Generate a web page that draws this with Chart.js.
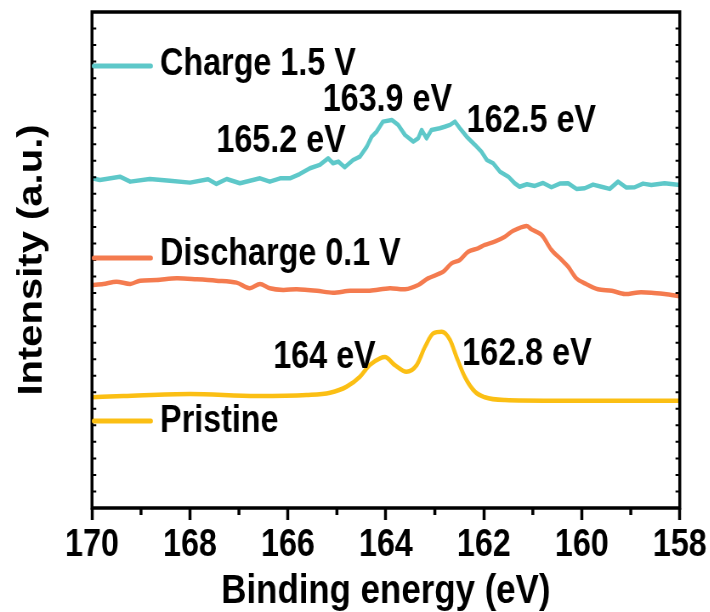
<!DOCTYPE html>
<html>
<head>
<meta charset="utf-8">
<script src="https://cdn.jsdelivr.net/npm/chart.js@4.4.1/dist/chart.umd.min.js"></script>
<style>
    html, body { margin: 0; padding: 0; background: #fff; overflow: hidden; }
    #wrap { width: 710px; height: 612px; overflow: hidden; }
    /* the original figure is squeezed horizontally, so draw wide and squeeze */
    #xps { transform: scaleX(0.85); transform-origin: 0 0; }
</style>
</head>
<body>
<div id="wrap"><canvas id="xps" width="835" height="612"></canvas></div>
<script>
// binding energy (eV) and intensity (a.u., offset stacked)
const chargeE = [170.00, 169.84, 169.43, 169.22, 168.82, 168.41, 168.00, 167.63, 167.46, 167.25, 166.98, 166.57, 166.37, 166.16, 165.96, 165.76, 165.55, 165.35, 165.18, 165.08, 164.97, 164.84, 164.67, 164.53, 164.39, 164.29, 164.19, 164.06, 163.88, 163.75, 163.61, 163.44, 163.34, 163.27, 163.17, 163.07, 162.90, 162.80, 162.69, 162.59, 162.49, 162.35, 162.18, 162.05, 161.94, 161.81, 161.67, 161.50, 161.37, 161.27, 161.12, 160.96, 160.79, 160.62, 160.45, 160.28, 160.11, 159.94, 159.77, 159.60, 159.43, 159.26, 159.09, 158.92, 158.75, 158.58, 158.31, 158.00];
const chargeI = [19.94, 19.84, 20.04, 19.74, 19.90, 19.80, 19.68, 19.88, 19.60, 19.90, 19.64, 19.94, 19.74, 19.94, 19.94, 20.20, 20.55, 20.75, 21.15, 20.85, 20.95, 20.61, 21.05, 21.25, 21.85, 22.46, 22.76, 23.37, 23.47, 23.17, 22.56, 22.16, 22.36, 22.86, 22.36, 22.86, 22.97, 23.06, 23.17, 23.37, 22.97, 22.46, 21.96, 21.55, 21.05, 20.85, 20.34, 20.04, 19.64, 19.43, 19.58, 19.48, 19.66, 19.40, 19.62, 19.64, 19.30, 19.34, 19.56, 19.43, 19.30, 19.74, 19.38, 19.40, 19.62, 19.54, 19.64, 19.54];

const dischargeE = [170.00, 169.77, 169.50, 169.22, 169.02, 168.68, 168.27, 167.86, 167.46, 167.05, 166.78, 166.57, 166.37, 166.10, 165.82, 165.41, 165.08, 164.73, 164.33, 163.92, 163.61, 163.34, 163.14, 162.83, 162.66, 162.49, 162.32, 162.12, 161.98, 161.78, 161.57, 161.40, 161.13, 161.03, 160.82, 160.62, 160.41, 160.28, 160.11, 159.94, 159.67, 159.39, 159.12, 158.85, 158.58, 158.31, 158.00];
const dischargeI = [13.49, 13.55, 13.69, 13.55, 13.75, 13.79, 13.89, 13.83, 13.75, 13.63, 13.29, 13.55, 13.29, 13.19, 13.23, 13.14, 13.02, 13.14, 13.14, 13.29, 13.23, 13.49, 13.89, 14.29, 14.80, 15.00, 15.50, 15.71, 15.91, 16.11, 16.41, 16.77, 17.06, 16.86, 16.51, 15.61, 15.00, 14.60, 13.89, 13.59, 13.23, 13.14, 12.94, 13.04, 13.02, 12.94, 12.82];

const pristineE = [170.00, 169.36, 168.00, 166.64, 165.62, 165.14, 164.80, 164.53, 164.33, 164.12, 164.02, 163.82, 163.58, 163.37, 163.20, 163.03, 162.86, 162.69, 162.56, 162.39, 162.18, 161.98, 161.57, 160.62, 159.26, 158.00];
const pristineI = [6.70, 6.77, 6.90, 6.77, 6.83, 6.97, 7.34, 7.94, 8.65, 9.05, 9.13, 8.65, 8.24, 8.65, 9.76, 10.57, 10.66, 10.16, 9.15, 7.94, 7.03, 6.70, 6.53, 6.49, 6.49, 6.49];

const seriesNames = ['Charge 1.5 V', 'Discharge 0.1 V', 'Pristine'];
const peakLabels = ['165.2 eV', '163.9 eV', '162.5 eV', '164 eV', '162.8 eV'];
const xTicks = [170, 168, 166, 164, 162, 160, 158];

// where the in-plot texts sit, in axis units (left edge, baseline)
const legendLine = [[169.96, 168.80, 26.73], [169.96, 168.80, 15.12], [169.96, 168.80, 5.26]];
const legendText = [[168.61, 26.19], [168.61, 14.70], [168.61, 4.60]];
const peakPos = [[167.46, 21.55], [165.29, 24.01], [162.35, 22.76], [166.30, 8.47], [162.44, 8.65]];

const colors = ['#5ec8c9', '#f47b4f', '#fbbf14'];
const FONT = "'Liberation Sans', Arial, sans-serif";
const SQ = 0.85;

function pts(xs, ys) {
    return xs.map((x, i) => ({ x: x, y: ys[i] }));
}

const decor = {
    id: 'decor',
    afterDatasetsDraw(chart) {
        const ctx = chart.ctx;
        const a = chart.chartArea;
        const xs = chart.scales.x;
        const ys = chart.scales.y;
        ctx.save();

        // frame
        ctx.strokeStyle = '#000';
        ctx.lineWidth = 3.5;
        ctx.strokeRect(a.left, a.top, a.right - a.left, a.bottom - a.top);

        // inward y ticks on both sides
        ctx.lineWidth = 2;
        for (let v = 1; v < 30; v++) {
            const y = ys.getPixelForValue(v);
            ctx.beginPath();
            ctx.moveTo(a.left, y); ctx.lineTo(a.left + 5, y);
            ctx.moveTo(a.right, y); ctx.lineTo(a.right - 5, y);
            ctx.stroke();
        }

        // minor x ticks
        ctx.lineWidth = 3.5;
        for (let v = 159; v < 170; v += 2) {
            const x = xs.getPixelForValue(v);
            ctx.beginPath();
            ctx.moveTo(x, a.bottom); ctx.lineTo(x, a.bottom + 7);
            ctx.stroke();
        }

        // legend lines + names
        ctx.lineCap = 'round';
        ctx.lineWidth = 5;
        ctx.font = 'bold 38px ' + FONT;
        ctx.textBaseline = 'alphabetic';
        ctx.textAlign = 'left';
        seriesNames.forEach((name, i) => {
            const l = legendLine[i];
            ctx.strokeStyle = colors[i];
            ctx.beginPath();
            ctx.moveTo(xs.getPixelForValue(l[0]), ys.getPixelForValue(l[2]));
            ctx.lineTo(xs.getPixelForValue(l[1]), ys.getPixelForValue(l[2]));
            ctx.stroke();
            ctx.fillStyle = '#000';
            ctx.fillText(name, xs.getPixelForValue(legendText[i][0]), ys.getPixelForValue(legendText[i][1]));
        });

        // peak positions
        peakLabels.forEach((t, i) => {
            ctx.fillText(t, xs.getPixelForValue(peakPos[i][0]), ys.getPixelForValue(peakPos[i][1]));
        });
        ctx.restore();
    }
};

const chart = new Chart(document.getElementById('xps'), {
    type: 'line',
    data: {
        datasets: [
            { label: seriesNames[0], data: pts(chargeE, chargeI), borderColor: colors[0], borderWidth: 4.5, tension: 0 },
            { label: seriesNames[1], data: pts(dischargeE, dischargeI), borderColor: colors[1], borderWidth: 4.5, tension: 0.3 },
            { label: seriesNames[2], data: pts(pristineE, pristineI), borderColor: colors[2], borderWidth: 4.5, cubicInterpolationMode: 'monotone' }
        ]
    },
    options: {
        responsive: false,
        animation: false,
        layout: { padding: { top: 12, right: 30 / SQ, left: 0, bottom: 0 } },
        elements: { point: { radius: 0 }, line: { borderJoinStyle: 'round', borderCapStyle: 'round' } },
        plugins: { legend: { display: false }, tooltip: { enabled: false } },
        scales: {
            x: {
                type: 'linear',
                reverse: true,
                min: 158,
                max: 170,
                border: { display: false },
                grid: {
                    drawOnChartArea: false,
                    drawTicks: true,
                    tickLength: 12,
                    tickWidth: 3.5,
                    tickColor: (c) => xTicks.includes(c.tick.value) ? '#000' : 'rgba(0,0,0,0)'
                },
                ticks: {
                    stepSize: 1,
                    autoSkip: false,
                    maxRotation: 0,
                    padding: 3,
                    color: '#000',
                    font: { family: FONT, size: 38, weight: 'bold' },
                    callback: (v) => xTicks.includes(v) ? String(v) : ''
                },
                title: {
                    display: true,
                    text: 'Binding energy (eV)',
                    color: '#000',
                    font: { family: FONT, size: 41, weight: 'bold', lineHeight: 1 },
                    padding: 0
                },
                afterFit: (s) => { s.height = 104; }
            },
            y: {
                min: 0,
                max: 30,
                border: { display: false },
                grid: { display: false },
                ticks: { display: false, stepSize: 1 },
                title: {
                    display: true,
                    text: 'Intensity (a.u.)',
                    color: '#000',
                    font: { family: FONT, size: 40, weight: 'bold', lineHeight: 1 },
                    padding: { top: 18, bottom: 0 }
                },
                afterFit: (s) => { s.width = 92 / SQ; }
            }
        }
    },
    plugins: [decor]
});
</script>
</body>
</html>
